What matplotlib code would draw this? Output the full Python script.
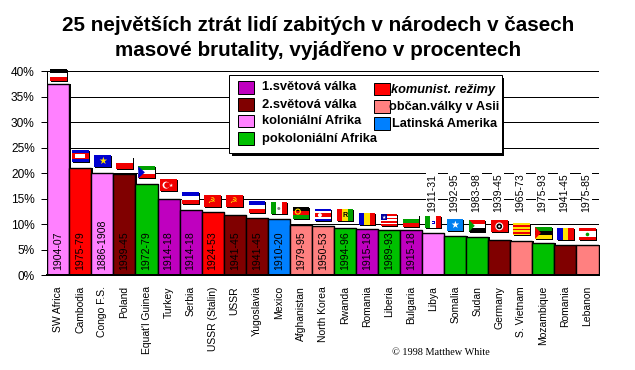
import matplotlib
matplotlib.use("Agg")
import matplotlib.pyplot as plt
from matplotlib.patches import Rectangle, Polygon, Circle
from matplotlib.transforms import IdentityTransform

countries = ["SW Africa","Cambodia","Congo F.S.","Poland","Equat'l Guinea","Turkey","Serbia",
             "USSR (Stalin)","USSR","Yugoslavia","Mexico","Afghanistan","North Korea","Rwanda",
             "Romania","Liberia","Bulgaria","Libya","Somalia","Sudan","Germany","S. Vietnam",
             "Mozambique","Romania","Lebanon"]
values = [37.6,21.1,20.0,19.8,17.8,14.9,12.7,12.3,11.7,11.1,10.9,9.9,9.6,9.2,9.0,8.8,8.8,
          8.2,7.7,7.5,6.8,6.6,6.3,5.9,5.8]
years = ["1904-07","1975-79","1886-1908","1939-45","1972-79","1914-18","1914-18","1924-53",
         "1941-45","1941-45","1910-20","1979-95","1950-53","1994-96","1915-18","1989-93",
         "1915-18","1911-31","1992-95","1983-98","1939-45","1965-73","1975-93","1941-45","1975-85"]
groups = ["col","com","col","ww2","post","ww1","ww1","com","ww2","ww2","lat","civ","civ",
          "post","ww1","post","ww1","col","post","post","ww2","civ","post","ww2","civ"]
yticks = [0,5,10,15,20,25,30,35,40]
title_lines = "25 největších ztrát lidí zabitých v národech v časech\nmasové brutality, vyjádřeno v procentech"

COL = {"ww1":"#BF00BF","ww2":"#800000","col":"#FF80FF","post":"#00C000",
       "com":"#FF0000","civ":"#FF8080","lat":"#0080FF"}
W, H = 635, 370
L, R, B, T = 47.3, 598.5, 275, 71.3
SANS = "Liberation Sans"
PX = 0.72

fig = plt.figure(figsize=(W/100, H/100), dpi=100, facecolor="white")
ax = fig.add_axes([L/W, 1-B/H, (R-L)/W, (B-T)/H])
ax.set_xlim(-0.5, 24.5); ax.set_ylim(0, 40)
for s in ["top","right"]:
    ax.spines[s].set_visible(False)
ax.spines["left"].set_linewidth(PX)
ax.spines["bottom"].set_linewidth(2*PX)
ax.spines["bottom"].set_zorder(6)
ax.set_yticks(yticks)
ax.set_yticklabels([f"{v}%" for v in yticks], fontsize=8.6, family=SANS)
ax.tick_params(axis="y", length=4, width=PX, pad=5)
ax.set_xticks(range(len(countries)))
ax.set_xticklabels(countries, rotation=90, fontsize=7.5, family=SANS, va="top", ha="center")
ax.tick_params(axis="x", length=0, pad=8)
ax.grid(axis="y", color="black", lw=PX, zorder=0)
ax.set_axisbelow(True)

xs = list(range(len(values)))
ax.bar([x+0.06 for x in xs], values, width=1.0, color="black", lw=0, zorder=2, clip_on=False)
ax.bar(xs, values, width=1.0, color=[COL[g] for g in groups], edgecolor="black", lw=1.4*PX, zorder=3)

N_IN_BAR = 17
LABEL_Y = 12.4
for i, (y, v) in enumerate(zip(years, values)):
    if i < N_IN_BAR:
        ax.text(i, 0.9, y, rotation=90, ha="center", va="bottom", fontsize=7.6, family=SANS, zorder=4)
    else:
        ax.text(i-0.05, LABEL_Y, y, rotation=90, ha="center", va="bottom", fontsize=7.6, family=SANS,
                zorder=4, bbox=dict(fc="white", ec="none", pad=0.6))

# flags ------------------------------------------------------------------
BL, RD, WH, BK = "#0000D0", "#F00000", "#FFFFFF", "#000000"
GR, YE = "#00A000", "#FFE000"
flags = [
 ("h",[BK,WH,RD]), ("h",[BL,RD,RD,BL]), ("h",[BL]), ("h",[WH,RD]), ("h",[GR,WH,RD]),
 ("h",[RD]), ("h",[BL,WH,RD]), ("h",[RD]), ("h",[RD]), ("h",[BL,WH,RD]),
 ("v",[GR,WH,RD]), ("h",[BK,RD,GR]), ("h",[BL,WH,RD,RD,WH,BL]), ("v",[RD,YE,GR]), ("v",[BL,YE,RD]),
 ("h",[RD,WH,RD,WH,RD,WH,RD]), ("h",[WH,GR,RD]), ("v",[GR,WH,RD]), ("h",["#0080F0"]), ("h",[RD,WH,BK]),
 ("h",[RD]), ("h",[YE,RD,YE,RD,YE,RD,YE]), ("h",[GR,BK,YE]), ("v",[BL,YE,RD]), ("h",[RD,WH,WH,RD]),
]
flag_gaps = [3,6,6,5,6,8,6,5,8,5,5,6,5,7,4,4,3,5,5,5,8,6,4,5,5]
FW, FH = 16.5, 12
tr = IdentityTransform()

def prect(x, y, w, h, c, z=5):
    ax.add_patch(Rectangle((x, y), w, h, fc=c, ec="none", transform=tr, zorder=z, clip_on=False))

for i, (v, (o, cols), gap) in enumerate(zip(values, flags, flag_gaps)):
    cx, top = ax.transData.transform((i, v))
    x0, y0 = cx - FW/2, top + gap
    prect(x0+1, y0-1, FW, FH, "black", 5)
    n = len(cols)
    for k, c in enumerate(cols):
        if o == "h":
            prect(x0, y0+FH*(n-k-1)/n, FW, FH/n, c, 6)
        else:
            prect(x0+FW*k/n, y0, FW/n, FH, c, 6)
    mx, my = x0+FW/2, y0+FH/2
    def sym(s, c, size=6, dx=0):
        ax.text(mx+dx, my, s, color=c, fontsize=size, ha="center", va="center",
                transform=tr, zorder=8, family="DejaVu Sans", clip_on=False)
    def tri(c, d=0.4):
        ax.add_patch(Polygon([(x0,y0),(x0,y0+FH),(x0+FW*d,my)], fc=c, ec="none", transform=tr, zorder=7, clip_on=False))
    def disc(dx, dy, r, fc, ec="none", lw=0, z=7):
        ax.add_patch(Circle((mx+dx, my+dy), r, fc=fc, ec=ec, lw=lw, transform=tr, zorder=z, clip_on=False))
    if i == 1:
        prect(mx-5, my-2, 10, 4, WH, 7)
    elif i == 2:
        sym("★", YE, 7)
    elif i == 4:
        tri(BL)
    elif i == 5:
        disc(-2.5, 0, 3.5, WH)
        disc(-1.5, 0, 2.8, RD, z=8)
        sym("★", WH, 3.5, dx=2)
    elif i in (7, 8):
        sym("☭", YE, 6, dx=-2)
    elif i == 10:
        disc(0, 0, 1.5, "#808080")
    elif i == 11:
        disc(-3, 1, 2.5, "none", ec=YE, lw=0.8)
    elif i == 12:
        disc(-3, 0, 2, WH)
    elif i == 13:
        ax.text(mx, my, "R", fontsize=5, fontweight="bold", ha="center", va="center",
                transform=tr, zorder=8, family=SANS)
    elif i == 15:
        prect(x0, my, 6, FH/2, "#0000A0", 7)
        ax.text(x0+3, my+3, "★", color=WH, fontsize=3.5, ha="center", va="center",
                transform=tr, zorder=8, family="DejaVu Sans")
    elif i == 17:
        prect(mx-1.5, my-1.5, 3, 3, "#0000D0", 7)
        prect(mx-0.7, my-0.7, 1.4, 1.4, WH, 8)
    elif i == 18:
        sym("★", WH, 7)
    elif i == 19:
        tri("#00A000", 0.35)
    elif i == 20:
        disc(0, 0, 4, WH)
        disc(0, 0, 2, "none", ec=BK, lw=1.2, z=8)
    elif i == 22:
        tri(RD, 0.35)
    elif i == 24:
        disc(0, 0, 1.8, "#00A000")

def fx(x): return x/W
def fy(y): return 1-y/H
def frect(x0, y0, x1, y1, fc, ec="none", lw=0, z=10):
    fig.add_artist(Rectangle((fx(x0), fy(y1)), (x1-x0)/W, (y1-y0)/H, fc=fc, ec=ec, lw=lw,
                             transform=fig.transFigure, zorder=z))

# legend
frect(232, 78, 504, 156, "black", z=10)
frect(228.5, 74.7, 501.5, 153, "white", ec="black", lw=PX, z=11)
legend_left = [("ww1","1.světová válka",81),("ww2","2.světová válka",98),
               ("col","koloniální Afrika",115),("post","pokoloniální Afrika",132)]
legend_right = [("com","komunist. režimy",83,391,"italic"),("civ","občan.války v Asii",100,389,"normal"),
                ("lat","Latinská Amerika",117,392,"normal")]
LFONT = "Liberation Sans"
for g, t, y in legend_left:
    frect(237.5, y, 254, y+12.5, COL[g], ec="black", lw=PX, z=12)
    fig.text(fx(262.5), fy(y+6.5), t, fontsize=9.3, fontweight="bold", family=LFONT, va="center", ha="left", zorder=13)
for g, t, y, tx, st in legend_right:
    frect(373.5, y, 390, y+12.5, COL[g], ec="black", lw=PX, z=12)
    fig.text(fx(tx), fy(y+7), t, fontsize=9.2, fontweight="bold", style=st, family=LFONT, va="center", ha="left", zorder=13)

fig.text(fx(318), fy(38), title_lines, fontsize=14.9, fontweight="bold", family="Liberation Sans",
         ha="center", va="center", linespacing=1.4)
fig.text(fx(392), fy(352.5), "© 1998 Matthew White", fontsize=7.4, family="Liberation Serif", va="center", ha="left")

fig.savefig("out.png", dpi=100)
